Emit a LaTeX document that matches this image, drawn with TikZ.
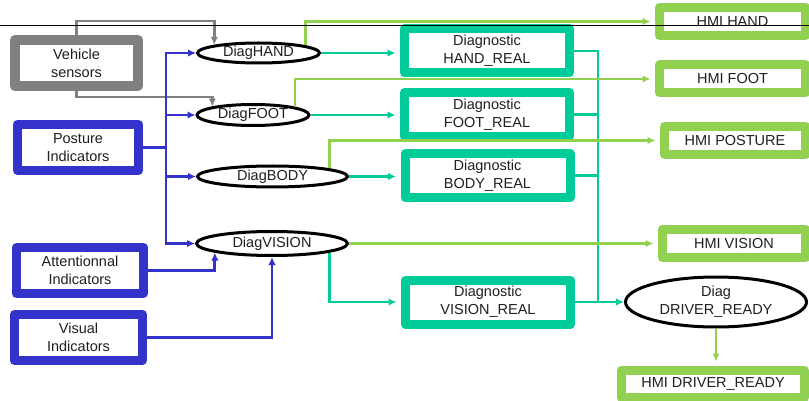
\documentclass[tikz,border=0pt]{standalone}
\usepackage{fontspec}
\setmainfont{Liberation Sans}
\usetikzlibrary{arrows.meta, shapes.geometric}
\definecolor{sensgray}{RGB}{128,128,128}
\definecolor{indblue}{RGB}{51,51,204}
\definecolor{realteal}{RGB}{0,204,153}
\definecolor{hmigreen}{RGB}{146,208,80}

\begin{document}
\begin{tikzpicture}[
        x=1pt, y=-1pt, >={Latex[length=8pt,width=7.5pt]},
        every node/.style={font=\fontsize{14.5}{18}\selectfont, align=center, inner sep=0pt, text=black!88},
        box/.style={rectangle, line width=9pt, line join=round, fill=white},
        sensor/.style={box, draw=sensgray, line width=10pt},
        indic/.style={box, draw=indblue},
        real/.style={box, draw=realteal, minimum width=165, minimum height=44},
        hmi/.style={box, draw=hmigreen, minimum height=28},
        diag/.style={ellipse, draw, line width=3pt, fill=white},
        wire/.style={line width=2.8pt},
        tobox/.style={->, shorten >=4.5pt},
        ]
        \useasboundingbox (0,0) rectangle (809,401);

        % inputs
        \node[sensor, minimum width=123, minimum height=46] (veh)  at (76.5,63)    {Vehicle\\sensors};
        \node[indic, minimum width=121, minimum height=46]  (post) at (78,147.5)   {Posture\\Indicators};
        \node[indic, minimum width=127, minimum height=46]  (att)  at (80,270.5)   {Attentionnal\\Indicators};
        \node[indic, minimum width=128, minimum height=46]  (vis)  at (78.5,337.5) {Visual\\Indicators};

        % diagnostics
        \node[diag, minimum width=122, minimum height=20] (dHand) at (258.5,53)   {DiagHAND};
        \node[diag, minimum width=112, minimum height=21] (dFoot) at (253,115)    {DiagFOOT};
        \node[diag, minimum width=150, minimum height=21] (dBody) at (272.5,176.5) {DiagBODY};
        \node[diag, minimum width=151, minimum height=24] (dVis)  at (272,243.5)  {DiagVISION};
        \node[diag, minimum width=181, minimum height=50] (drv)   at (716,302)    {Diag\\DRIVER\_READY};

        \node[real] (hReal) at (487,51)     {Diagnostic\\HAND\_REAL};
        \node[real] (fReal) at (487,114.5)  {Diagnostic\\FOOT\_REAL};
        \node[real] (bReal) at (487.5,175.5) {Diagnostic\\BODY\_REAL};
        \node[real] (vReal) at (488,302)    {Diagnostic\\VISION\_REAL};

        % outputs
        \node[hmi, minimum width=146] (hmiH) at (732.5,21.5) {HMI HAND};
        \node[hmi, minimum width=146] (hmiF) at (732.5,79)   {HMI FOOT};
        \node[hmi, minimum width=141] (hmiP) at (735,140.5)  {HMI POSTURE};
        \node[hmi, minimum width=143] (hmiV) at (734,243.5)  {HMI VISION};
        \node[hmi, minimum width=183, minimum height=27] (hmiD) at (713,384) {HMI DRIVER\_READY};

        \coordinate (gTop) at (0,21);
        \coordinate (gLow) at (0,97);
        \coordinate (bBus) at (166,0);
        \coordinate (tBus) at (598,0);

        \draw[wire, sensgray, ->] (veh.north) -- (veh.north |- gTop) -| (dHand.north west);
        \draw[wire, sensgray, ->] (veh.south) -- (veh.south |- gLow) -| (dFoot.north west);

        \draw[wire, indblue, ->] (post.east) -| (bBus |- dHand.west) -- (dHand.west);
        \draw[wire, indblue, ->] (post.east) -| (bBus |- dFoot.west) -- (dFoot.west);
        \draw[wire, indblue, ->] (post.east) -| (bBus |- dBody.west) -- (dBody.west);
        \draw[wire, indblue, ->] (post.east) -| (bBus |- dVis.west) -- (dVis.west);
        \draw[wire, indblue, ->] (att.east) -| (dVis.189);
        \draw[wire, indblue, ->] (vis.east) -| (dVis.south);

        \draw[wire, realteal, tobox] (dHand.east) -- (dHand.east -| hReal.west);
        \draw[wire, realteal, tobox] (dFoot.east) -- (dFoot.east -| fReal.west);
        \draw[wire, realteal, tobox] (dBody.east) -- (dBody.east -| bReal.west);
        \draw[wire, realteal, tobox] (dVis.351) |- (vReal.west);
        \draw[wire, realteal] (hReal.east) -| (tBus |- drv.west);
        \draw[wire, realteal] (fReal.east) -- (fReal.east -| tBus);
        \draw[wire, realteal] (bReal.east) -- (bReal.east -| tBus);
        \draw[wire, realteal, ->] (vReal.east) -- (drv.west);

        \draw[wire, hmigreen, tobox] (dHand.9) |- (hmiH.west);
        \draw[wire, hmigreen, tobox] (dFoot.11) |- (hmiF.west);
        \draw[wire, hmigreen, tobox] (dBody.8) |- (hmiP.west);
        \draw[wire, hmigreen, tobox] (dVis.east) -- (hmiV.west);
        \draw[wire, hmigreen, tobox] (drv.south) -- (drv.south |- hmiD.north);

        \draw[line width=0.8pt] (0,25) -- (809,25);
      \end{tikzpicture}
\end{document}
